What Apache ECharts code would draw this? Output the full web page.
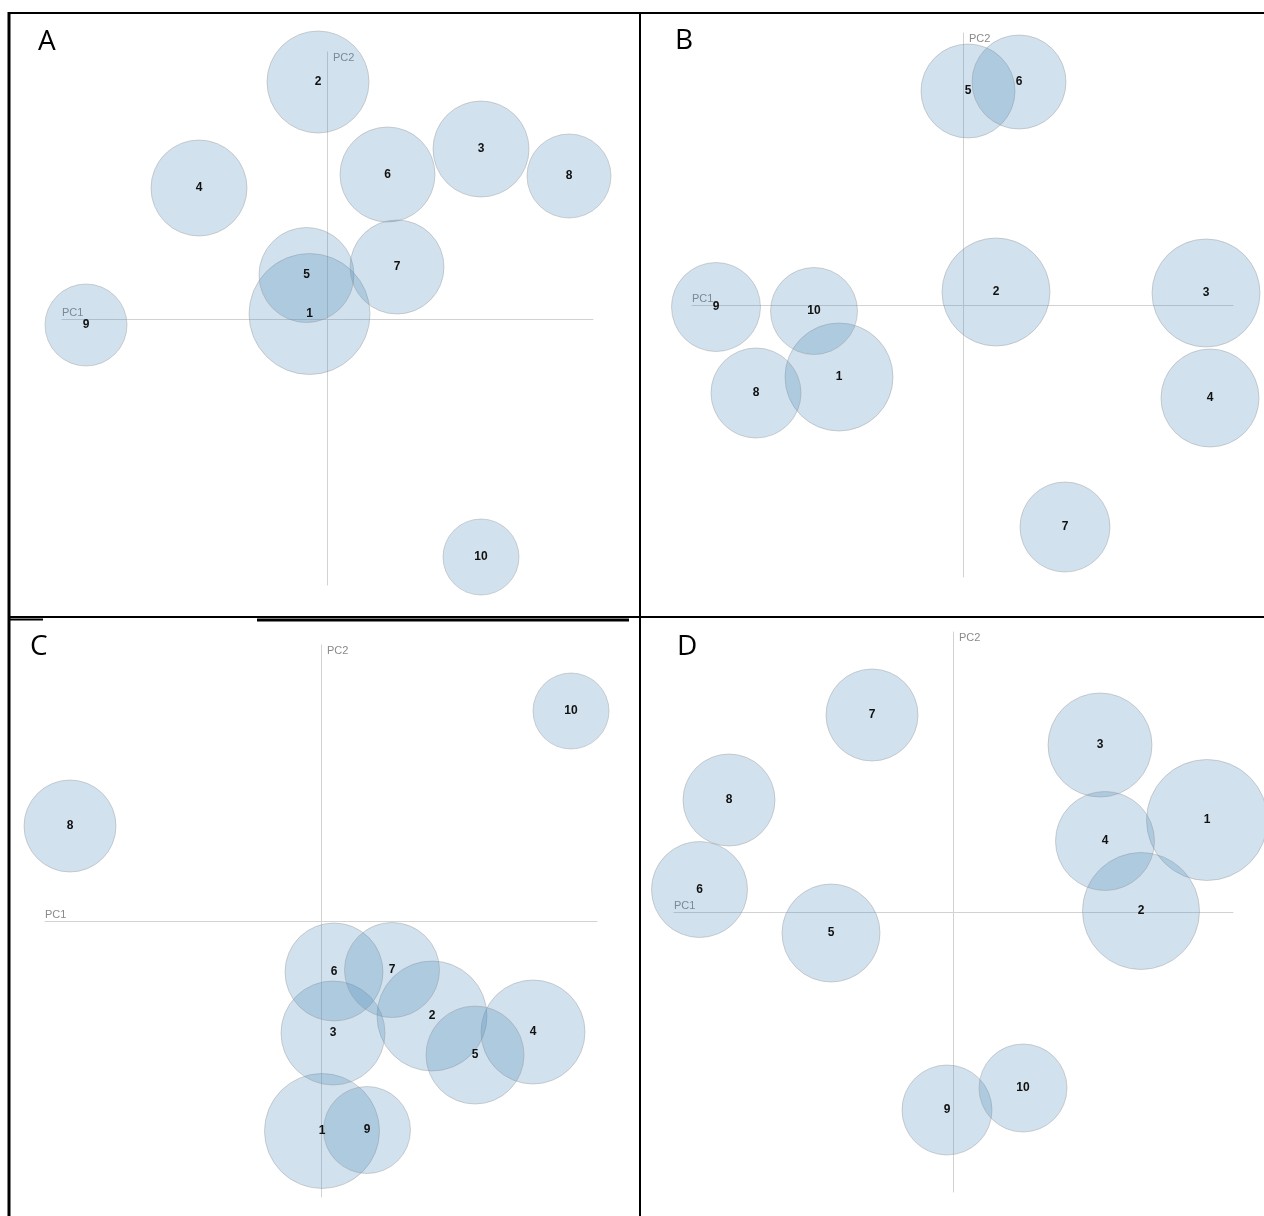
<!DOCTYPE html>
<html>
<head>
<meta charset="utf-8">
<title>PCA bubble plots</title>
<script src="https://cdn.jsdelivr.net/npm/echarts@6/dist/echarts.min.js"></script>
<style>
  html, body { margin: 0; padding: 0; background: #fff; }
  #chart { width: 1264px; height: 1216px; }
</style>
</head>
<body>
<div id="chart"></div>
<script>
// Sample labels shared by all four panels
const samples = ['1', '2', '3', '4', '5', '6', '7', '8', '9', '10'];

// Panel A: PC1 / PC2 scores and bubble radius (same units as the axes)
const pc1A = [-1.75, -0.9, 15.4, -12.8, -2.05, 6.05, 7.0, 24.2, -24.1, 15.4];
const pc2A = [0.5, 23.7, 17.0, 13.1, 4.4, 14.45, 5.2, 14.3, -0.6, -23.8];
const radA = [6.05, 5.1, 4.8, 4.8, 4.75, 4.75, 4.7, 4.2, 4.1, 3.8];

// Panel B
const pc1B = [-12.4, 3.3, 24.3, 24.7, 0.5, 5.6, 10.2, -20.7, -24.7, -14.9];
const pc2B = [-7.2, 1.3, 1.2, -9.3, 21.4, 22.3, -22.2, -8.8, -0.2, -0.6];
const radB = [5.4, 5.4, 5.4, 4.9, 4.7, 4.7, 4.5, 4.5, 4.45, 4.35];

// Panel C
const pc1C = [0.1, 11.1, 1.2, 21.2, 15.4, 1.3, 7.1, -25.1, 4.6, 25.0];
const pc2C = [-21.0, -9.5, -11.2, -11.1, -13.4, -5.1, -4.9, 9.5, -20.9, 21.0];
const radC = [5.75, 5.5, 5.2, 5.2, 4.9, 4.9, 4.75, 4.6, 4.35, 3.8];

// Panel D
const pc1D = [25.4, 18.8, 14.7, 15.2, -12.2, -25.35, -8.1, -22.4, -0.6, 7.0];
const pc2D = [9.2, 0.1, 16.7, 7.1, -2.1, 2.25, 19.7, 11.2, -19.8, -17.6];
const radD = [6.05, 5.85, 5.2, 4.95, 4.9, 4.8, 4.6, 4.6, 4.5, 4.4];

// Axis extents of each panel (PC1 range, PC2 range)
const rangeA = { x: [-26.5, 26.6], y: [-26.6, 26.7] };
const rangeB = { x: [-27.1, 27.0], y: [-27.2, 27.2] };
const rangeC = { x: [-27.6, 27.6], y: [-27.6, 27.6] };
const rangeD = { x: [-27.9, 28.0], y: [-28.0, 28.0] };

const panelLetters = ['A', 'B', 'C', 'D'];

// Layout of the four plotting areas
const layouts = [
  { left: 62,  top: 52,  width: 531, height: 533, letter: [38, 28] },
  { left: 692, top: 33,  width: 541, height: 544, letter: [675, 27] },
  { left: 45,  top: 645, width: 552, height: 552, letter: [30, 633] },
  { left: 674, top: 632, width: 559, height: 560, letter: [677, 633] }
];

const panels = [
  { pc1: pc1A, pc2: pc2A, rad: radA, range: rangeA },
  { pc1: pc1B, pc2: pc2B, rad: radB, range: rangeB },
  { pc1: pc1C, pc2: pc2C, rad: radC, range: rangeC },
  { pc1: pc1D, pc2: pc2D, rad: radD, range: rangeD }
];

const axisColor = '#d2d2d2';
const nameStyle = { color: '#8a8a8a', fontSize: 11, fontFamily: 'Liberation Sans, Arial, sans-serif' };

const grids = [], xAxes = [], yAxes = [], series = [];

panels.forEach((p, i) => {
  const L = layouts[i];
  grids.push({ left: L.left, top: L.top, width: L.width, height: L.height, containLabel: false });
  // pixels per axis unit, used to turn radii into symbol diameters
  const pxPerUnit = L.width / (p.range.x[1] - p.range.x[0]);

  xAxes.push({
    type: 'value', gridIndex: i, min: p.range.x[0], max: p.range.x[1],
    name: 'PC1', nameLocation: 'start', nameGap: 0,
    nameTextStyle: Object.assign({ align: 'left', verticalAlign: 'bottom', padding: [0, 0, 1, 0] }, nameStyle),
    axisLine: { onZero: true, lineStyle: { color: axisColor, width: 1 } },
    axisTick: { show: false }, axisLabel: { show: false }, splitLine: { show: false }
  });
  yAxes.push({
    type: 'value', gridIndex: i, min: p.range.y[0], max: p.range.y[1],
    name: 'PC2', nameLocation: 'end', nameGap: 0,
    nameTextStyle: Object.assign({ align: 'left', verticalAlign: 'top', padding: [0, 0, 0, 6] }, nameStyle),
    axisLine: { onZero: true, lineStyle: { color: axisColor, width: 1 } },
    axisTick: { show: false }, axisLabel: { show: false }, splitLine: { show: false }
  });

  series.push({
    type: 'scatter', xAxisIndex: i, yAxisIndex: i, clip: false,
    data: samples.map((s, k) => ({ name: s, value: [p.pc1[k], p.pc2[k], p.rad[k]] })),
    symbol: 'circle',
    symbolSize: v => v[2] * 2 * pxPerUnit,
    itemStyle: {
      color: 'rgba(70,134,182,0.25)',
      borderColor: 'rgba(150,150,150,0.4)',
      borderWidth: 1,
      opacity: 1
    },
    label: {
      show: true, position: 'inside', formatter: '{b}',
      color: '#111', fontSize: 12, fontWeight: 'bold',
      fontFamily: 'Liberation Sans, Arial, sans-serif'
    },
    emphasis: { disabled: true }
  });
});

// Panel frame lines and panel letters
const frame = [
  { shape: { x1: 8, y1: 13, x2: 1264, y2: 13 }, w: 2 },
  { shape: { x1: 9, y1: 12, x2: 9, y2: 1216 }, w: 3 },
  { shape: { x1: 640, y1: 12, x2: 640, y2: 1216 }, w: 2 },
  { shape: { x1: 8, y1: 617, x2: 1264, y2: 617 }, w: 2 },
  { shape: { x1: 257, y1: 620, x2: 629, y2: 620 }, w: 3 },
  { shape: { x1: 9, y1: 619.5, x2: 43, y2: 619.5 }, w: 2 }
];
const graphic = frame.map(f => ({
  type: 'line', shape: f.shape, z: 100, silent: true,
  style: { stroke: '#000', lineWidth: f.w }
}));
panelLetters.forEach((t, i) => {
  graphic.push({
    type: 'text', left: layouts[i].letter[0], top: layouts[i].letter[1], z: 100, silent: true,
    style: { text: t, fill: '#000', font: '28px "Open Sans", sans-serif' }
  });
});

const chart = echarts.init(document.getElementById('chart'), null, { renderer: 'canvas' });
chart.setOption({
  animation: false,
  backgroundColor: '#fff',
  grid: grids,
  xAxis: xAxes,
  yAxis: yAxes,
  series: series,
  graphic: graphic
});
</script>
</body>
</html>
